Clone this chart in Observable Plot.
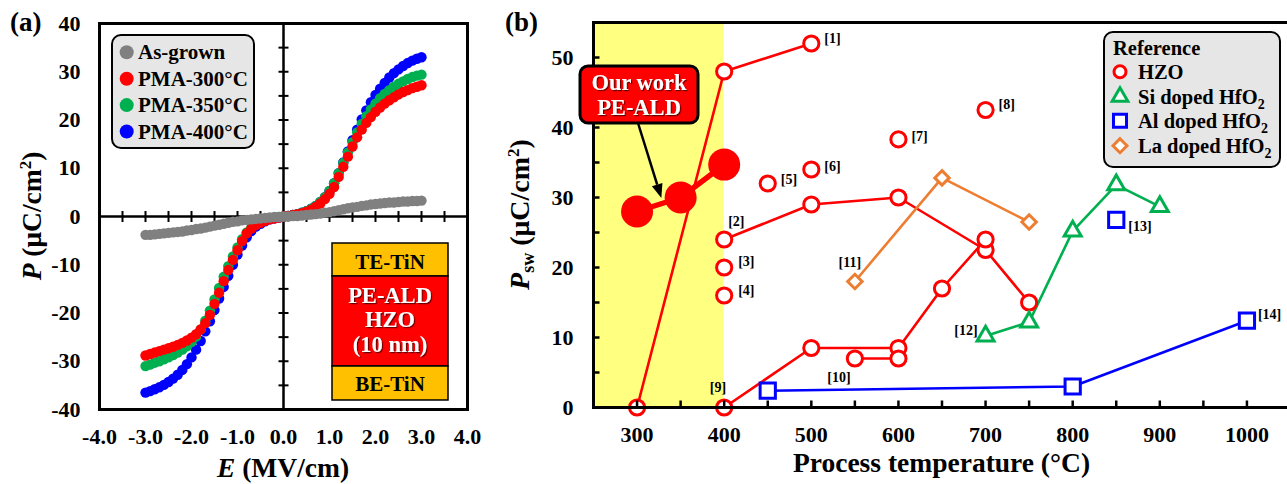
<!DOCTYPE html>
<html><head><meta charset="utf-8">
<script src="https://cdn.jsdelivr.net/npm/d3@7"></script>
<script src="https://cdn.jsdelivr.net/npm/@observablehq/plot@0.6"></script>
<style>
html,body{margin:0;padding:0;background:#fff;overflow:hidden;width:1287px;height:484px;}
#wrap{position:relative;width:1287px;height:484px;overflow:hidden;}
#a,#b{position:absolute;top:0;}
#a{left:0;width:470px;}
#b{left:480px;width:810px;}
</style></head><body><div id="wrap"><div id="a"></div><div id="b"></div></div>
<script>
// ---------------- DATA: panel (a) P–E curves ----------------
const fieldE = [-3.0,-2.9,-2.8,-2.7,-2.6,-2.5,-2.4,-2.3,-2.2,-2.1,-2.0,-1.9,-1.8,-1.7,-1.6,-1.5,-1.4,-1.3,-1.2,-1.1,-1.0,-0.9,-0.8,-0.7,-0.6,-0.5,-0.4,-0.3,-0.2,-0.1,0.0,
  0.1,0.2,0.3,0.4,0.5,0.6,0.7,0.8,0.9,1.0,1.1,1.2,1.3,1.4,1.5,1.6,1.7,1.8,1.9,2.0,2.1,2.2,2.3,2.4,2.5,2.6,2.7,2.8,2.9,3.0];
const pAsGrown = [-3.8,-3.8,-3.7,-3.6,-3.5,-3.4,-3.3,-3.2,-3.1,-2.9,-2.8,-2.6,-2.5,-2.3,-2.1,-1.9,-1.7,-1.5,-1.3,-1.1,-1.0,-0.8,-0.7,-0.6,-0.5,-0.4,-0.3,-0.2,-0.1,-0.1,0.0,
  0.0,0.1,0.1,0.2,0.3,0.4,0.5,0.6,0.8,0.9,1.1,1.3,1.5,1.7,1.9,2.0,2.2,2.3,2.5,2.6,2.7,2.8,2.9,2.9,3.0,3.1,3.1,3.2,3.2,3.3];
const pPMA300 = [-28.8,-28.5,-28.2,-27.9,-27.6,-27.3,-27.0,-26.6,-26.2,-25.7,-25.1,-24.4,-23.4,-22.1,-20.4,-18.1,-15.8,-13.4,-11.1,-9.0,-7.0,-5.1,-3.5,-2.5,-1.8,-1.3,-0.9,-0.6,-0.4,-0.2,0.0,
  0.1,0.3,0.5,0.7,1.0,1.4,2.0,2.7,3.6,4.7,6.1,8.2,10.3,12.4,14.5,16.4,18.0,19.4,20.6,21.7,22.6,23.4,24.1,24.7,25.3,25.8,26.2,26.6,26.9,27.2];
const pPMA350 = [-31.0,-30.7,-30.3,-30.0,-29.6,-29.2,-28.7,-28.2,-27.6,-26.9,-26.0,-24.9,-23.4,-21.6,-19.5,-17.2,-14.8,-12.5,-10.3,-8.3,-6.4,-4.7,-3.3,-2.3,-1.6,-1.1,-0.8,-0.5,-0.3,-0.1,0.0,
  0.1,0.3,0.5,0.8,1.1,1.6,2.2,3.0,4.0,5.3,6.9,9.0,11.1,13.3,15.4,17.4,19.2,20.8,22.2,23.4,24.5,25.4,26.2,26.9,27.5,28.0,28.5,28.9,29.2,29.4];
const pPMA400 = [-36.5,-36.2,-35.8,-35.4,-34.9,-34.3,-33.6,-32.8,-31.8,-30.6,-29.2,-27.6,-25.8,-23.8,-21.7,-19.4,-17.0,-14.6,-12.3,-10.0,-7.9,-6.0,-4.3,-3.0,-2.1,-1.5,-1.0,-0.6,-0.4,-0.2,0.0,
  0.1,0.3,0.5,0.8,1.1,1.6,2.2,3.0,4.0,5.3,6.9,9.0,11.2,13.5,15.8,18.0,20.1,22.0,23.7,25.2,26.5,27.7,28.8,29.7,30.5,31.2,31.8,32.3,32.7,33.0];
const seriesNames = ["As-grown","PMA-300°C","PMA-350°C","PMA-400°C"];
const seriesColors = ["#808080","#FF0000","#00B050","#0000FF"];
const eTickLabels = [-4,-3,-2,-1,0,1,2,3,4];
const eMinorTicks = [-3.5,-3,-2.5,-2,-1.5,-1,-0.5,0.5,1,1.5,2,2.5,3,3.5];
const pTickLabels = [-40,-30,-20,-10,0,10,20,30,40];
const pMinorTicks = [-35,-30,-25,-20,-15,-10,-5,5,10,15,20,25,30,35];

// ---------------- DATA: panel (b) Psw vs process temperature ----------------
const hzoData = [
  ["[1]",300,0],["[1]",400,48],["[1]",500,52],
  ["[2]",400,24],["[2]",500,29],["[2]",600,30],["[2]",700,22.5],["[2]",750,15],
  ["[3]",400,20],["[4]",400,16],["[5]",450,32],["[6]",500,34],["[7]",600,38.3],["[8]",700,42.5],
  ["[9]",400,0],["[9]",500,8.5],["[9]",600,8.5],["[9]",650,17],["[9]",700,24],
  ["[10]",550,7],["[10]",600,7]
];
const siData = [["[12]",700,10.2],["[12]",750,12.2],["[12]",800,25.2],["[12]",850,31.8],["[12]",900,28.7]];
const alData = [["[14]",450,2.4],["[14]",800,3.0],["[14]",1000,12.4],["[13]",850,26.8]];
const laData = [["[11]",550,18],["[11]",650,32.8],["[11]",750,26.5]];
const ourWork = [[300,28],[350,30],[400,34.7]];
const lowTempWindow = [{from:250,to:400}];
const refLabels = [
  {ref:"[1]",T:500,P:52},{ref:"[2]",T:400,P:24},{ref:"[3]",T:400,P:20},{ref:"[4]",T:400,P:16},
  {ref:"[5]",T:450,P:32},{ref:"[6]",T:500,P:34},{ref:"[7]",T:600,P:38.3},{ref:"[8]",T:700,P:42.5},
  {ref:"[9]",T:400,P:0},{ref:"[10]",T:550,P:7},{ref:"[11]",T:550,P:18},{ref:"[12]",T:700,P:10.2},
  {ref:"[13]",T:850,P:26.8},{ref:"[14]",T:1000,P:12.4}
];
const tTickLabels = [300,400,500,600,700,800,900,1000];
const tMinorTicks = [300,350,400,450,500,550,600,650,700,750,800,850,900,950,1000];
const pswTickLabels = [0,10,20,30,40,50];
const pswMinorTicks = [5,10,15,20,25,30,35,40,45,50];
const legendB = [
  {name:"HZO", sub:"", color:"#FF0000", symbol:"circle"},
  {name:"Si doped HfO", sub:"2", color:"#00B050", symbol:"triangle"},
  {name:"Al doped HfO", sub:"2", color:"#0000FF", symbol:"square"},
  {name:"La doped HfO", sub:"2", color:"#ED7D31", symbol:"diamond"}
];

// ---------------- styling / layout ----------------
const FONT = "'Liberation Serif','Times New Roman',serif";
const baseStyle = {fontFamily: FONT, fontWeight: "bold", fontSize: "22px", color: "black", background: "transparent", overflow: "visible"};
const tickCrossV = {draw(c){c.moveTo(0,-5.5);c.lineTo(0,5.5);}};
const tickCrossH = {draw(c){c.moveTo(-5,0);c.lineTo(5,0);}};
const tickUp = {draw(c){c.moveTo(0,0);c.lineTo(0,-7);}};
const tickRight = {draw(c){c.moveTo(0,0);c.lineTo(6,0);}};

// ---------------- Panel (a) ----------------
const tableA = seriesNames.map((n,i)=>fieldE.map((e,j)=>({E:e, P:[pAsGrown,pPMA300,pPMA350,pPMA400][i][j], s:i})));
const svgA = Plot.plot({
  width: 470, height: 484, marginLeft: 99, marginRight: 3, marginTop: 23, marginBottom: 75,
  x: {domain: [-4, 4]}, y: {domain: [-40, 40]},
  style: baseStyle,
  marks: [
    Plot.ruleY([0], {stroke: "black", strokeWidth: 2.5}),
    Plot.ruleX([0], {stroke: "black", strokeWidth: 2.5}),
    Plot.dot(eMinorTicks, {x: d=>d, y: ()=>0, symbol: tickCrossV, r: 1, fill: "none", stroke: "black", strokeWidth: 2}),
    Plot.dot(pMinorTicks, {x: ()=>0, y: d=>d, symbol: tickCrossH, r: 1, fill: "none", stroke: "black", strokeWidth: 2}),
    Plot.dot(tableA[3], {x: "E", y: "P", r: 5.2, fill: seriesColors[3]}),
    Plot.dot(tableA[2], {x: "E", y: "P", r: 5.2, fill: seriesColors[2]}),
    Plot.dot(tableA[1], {x: "E", y: "P", r: 5.2, fill: seriesColors[1]}),
    Plot.dot(tableA[0], {x: "E", y: "P", r: 5.2, fill: seriesColors[0]}),
    Plot.axisX(eTickLabels, {tickSize: 0, tickPadding: 19, tickFormat: d=>d.toFixed(1), label: null, fontSize: 22}),
    Plot.axisY(pTickLabels, {tickSize: 0, tickPadding: 19, tickFormat: d=>String(d), label: null, fontSize: 22}),
    Plot.frame({stroke: "black", strokeWidth: 3})
  ]
});
document.getElementById("a").appendChild(svgA);

// ---------------- Panel (b) ----------------
const lbOff = {"[1]":[13,-5,"start"],"[2]":[4,-18,"start"],"[3]":[14,-6,"start"],"[4]":[14,-5,"start"],
  "[5]":[13,-4,"start"],"[6]":[13,-3,"start"],"[7]":[13,-3,"start"],"[8]":[13,-5,"start"],
  "[9]":[2,-20,"end"],"[10]":[-16,19,"middle"],"[11]":[-5,-19,"middle"],"[12]":[-8,-6,"end"],
  "[13]":[12,7,"start"],"[14]":[11,-6,"start"]};
const lineOpts = (c)=>({x: d=>d[1], y: d=>d[2], z: d=>d[0], stroke: c, strokeWidth: 2.6});
const dotOpts = (c, sym, r)=>({x: d=>d[1], y: d=>d[2], symbol: sym, r, fill: "white", stroke: c, strokeWidth: 3});
const svgB = Plot.plot({
  width: 810, height: 484, marginLeft: 113, marginRight: 0, marginTop: 22, marginBottom: 77,
  x: {domain: [250, 1050]}, y: {domain: [0, 55]},
  style: baseStyle,
  marks: [
    Plot.rect(lowTempWindow, {x1: "from", x2: "to", fill: "#FFFF80"}),
    Plot.line(hzoData, lineOpts("#FF0000")),
    Plot.line(laData, lineOpts("#ED7D31")),
    Plot.line(siData, lineOpts("#00B050")),
    Plot.line(alData, lineOpts("#0000FF")),
    Plot.line(ourWork, {x: d=>d[0], y: d=>d[1], stroke: "#FF0000", strokeWidth: 5.5}),
    Plot.dot(ourWork, {x: d=>d[0], y: d=>d[1], r: 16, fill: "#FF0000"}),
    Plot.dot(hzoData, dotOpts("#FF0000", "circle", 7.6)),
    Plot.dot(laData, dotOpts("#ED7D31", "diamond2", 6.5)),
    Plot.dot(siData, dotOpts("#00B050", "triangle2", 8.1)),
    Plot.dot(alData, dotOpts("#0000FF", "square2", 9.7)),
    ...refLabels.map(l => Plot.text([l], {x: "T", y: "P", text: "ref", dx: lbOff[l.ref][0], dy: lbOff[l.ref][1], textAnchor: lbOff[l.ref][2], fontSize: 14, fontWeight: "bold"})),
    Plot.dot(tMinorTicks, {x: d=>d, y: ()=>0, symbol: tickUp, r: 1, fill: "none", stroke: "black", strokeWidth: 2.5}),
    Plot.dot(pswMinorTicks, {x: ()=>250, y: d=>d, symbol: tickRight, r: 1, fill: "none", stroke: "black", strokeWidth: 2.5}),
    Plot.axisX(tTickLabels, {tickSize: 0, tickPadding: 19, tickFormat: d=>String(d), label: null, fontSize: 22}),
    Plot.axisY(pswTickLabels, {tickSize: 0, tickPadding: 20, tickFormat: d=>String(d), label: null, fontSize: 22}),
    Plot.frame({stroke: "black", strokeWidth: 3})
  ]
});
document.getElementById("b").appendChild(svgB);

// ---------------- Annotations (text, legends, boxes) ----------------
function shadowFilter(sel, id){
  sel.append("defs").append("filter").attr("id", id).attr("x","-10%").attr("y","-10%").attr("width","130%").attr("height","140%")
    .append("feDropShadow").attr("dx",1.2).attr("dy",1.2).attr("stdDeviation",0.7).attr("flood-color","#300").attr("flood-opacity",0.75);
}
function txt(g, x, y, s, size, opts={}){
  const t = g.append("text").attr("x",x).attr("y",y).attr("font-size",size).attr("font-family",FONT).attr("font-weight","bold")
    .attr("text-anchor",opts.anchor||"start").attr("fill",opts.fill||"black").text(s);
  if (opts.filter) t.attr("filter",`url(#${opts.filter})`);
  return t;
}

// Panel (a)
{
  const sa = d3.select(svgA);
  shadowFilter(sa, "shA");
  const xs = svgA.scale("x"), ys = svgA.scale("y");
  const cx = (xs.range[0]+xs.range[1])/2, cy = (ys.range[0]+ys.range[1])/2;
  txt(sa, 10, 31, "(a)", 27);
  const tx = sa.append("text").attr("x",cx).attr("y",477).attr("text-anchor","middle").attr("font-size",27.5).attr("font-family",FONT).attr("font-weight","bold");
  tx.append("tspan").attr("font-style","italic").text("E");
  tx.append("tspan").text(" (MV/cm)");
  const ty = sa.append("text").attr("transform",`translate(41,${cy}) rotate(-90)`).attr("text-anchor","middle").attr("font-size",27.5).attr("font-family",FONT).attr("font-weight","bold");
  ty.append("tspan").attr("font-style","italic").text("P");
  ty.append("tspan").text(" (μC/cm");
  ty.append("tspan").attr("font-size",17).attr("dy",-10).text("2");
  ty.append("tspan").attr("dy",10).text(")");
  const lg = sa.append("g");
  lg.append("rect").attr("x",112).attr("y",35).attr("width",142).attr("height",113).attr("rx",9)
    .attr("fill","#E7E6E6").attr("stroke","black").attr("stroke-width",2);
  seriesNames.forEach((n,i)=>{
    const y = 52.3 + i*26.4;
    lg.append("circle").attr("cx",126.7).attr("cy",y).attr("r",7).attr("fill",seriesColors[i]);
    txt(lg, 138, y+7, n, 21);
  });
  const dv = sa.append("g").attr("stroke","black").attr("stroke-width",1.5);
  dv.append("rect").attr("x",332).attr("y",243).attr("width",116).attr("height",33).attr("fill","#FFC000");
  dv.append("rect").attr("x",332).attr("y",276).attr("width",116).attr("height",90).attr("fill","#FF0000");
  dv.append("rect").attr("x",332).attr("y",366).attr("width",116).attr("height",34).attr("fill","#FFC000");
  const dt = sa.append("g");
  txt(dt, 390, 268.5, "TE-TiN", 21, {anchor:"middle"});
  txt(dt, 390, 303, "PE-ALD", 22.5, {anchor:"middle", fill:"white", filter:"shA"});
  txt(dt, 390, 327, "HZO", 22.5, {anchor:"middle", fill:"white", filter:"shA"});
  txt(dt, 390, 352, "(10 nm)", 22.5, {anchor:"middle", fill:"white", filter:"shA"});
  txt(dt, 390, 391, "BE-TiN", 21, {anchor:"middle"});
}

// Panel (b)
{
  const sb = d3.select(svgB);
  shadowFilter(sb, "shB");
  const xs = svgB.scale("x"), ys = svgB.scale("y");
  const cx = (xs.range[0]+xs.range[1])/2, cy = (ys.range[0]+ys.range[1])/2;
  txt(sb, 25, 31, "(b)", 27);
  txt(sb, cx, 472, "Process temperature (°C)", 27.5, {anchor:"middle"});
  const ty = sb.append("text").attr("transform",`translate(49,${cy}) rotate(-90)`).attr("text-anchor","middle").attr("font-size",28).attr("font-family",FONT).attr("font-weight","bold");
  ty.append("tspan").attr("font-style","italic").text("P");
  ty.append("tspan").attr("font-size",18).attr("dy",5).text("sw");
  ty.append("tspan").attr("dy",-5).text(" (μC/cm");
  ty.append("tspan").attr("font-size",17).attr("dy",-10).text("2");
  ty.append("tspan").attr("dy",10).text(")");
  const lg = sb.append("g");
  lg.append("rect").attr("x",624).attr("y",32).attr("width",176).attr("height",135).attr("rx",9)
    .attr("fill","#E7E6E6").attr("stroke","black").attr("stroke-width",2);
  txt(lg, 633, 55, "Reference", 20.5);
  const symMap = {circle:[d3.symbolCircle,6], triangle:[d3.symbolTriangle2,7.5], square:[d3.symbolSquare2,8.3], diamond:[d3.symbolDiamond2,6.3]};
  legendB.forEach((d,i)=>{
    const y = [71.7,96.7,120.7,145.7][i];
    const [st, r] = symMap[d.symbol];
    lg.append("path").attr("transform",`translate(640,${y})`).attr("d", d3.symbol(st, Math.PI*r*r)())
      .attr("fill","white").attr("stroke",d.color).attr("stroke-width",3);
    const t = txt(lg, 658, y+7, d.name, 20.5);
    if (d.sub) t.append("tspan").attr("font-size",14).attr("dy",5).text(d.sub);
  });
  const mx = (xs.apply(ourWork[0][0]) + xs.apply(ourWork[1][0]))/2;
  const my = (ys.apply(ourWork[0][1]) + ys.apply(ourWork[1][1]))/2;
  const tip = [mx+3, my-6], start = [158, 123];
  const dxv = tip[0]-start[0], dyv = tip[1]-start[1], len = Math.hypot(dxv,dyv);
  const ux = dxv/len, uy = dyv/len, hl = 14, hw = 5.5;
  const base = [tip[0]-ux*hl, tip[1]-uy*hl];
  sb.append("line").attr("x1",start[0]).attr("y1",start[1]).attr("x2",base[0]).attr("y2",base[1]).attr("stroke","black").attr("stroke-width",2.5);
  sb.append("path").attr("d",`M${tip[0]},${tip[1]}L${base[0]-uy*hw},${base[1]+ux*hw}L${base[0]+uy*hw},${base[1]-ux*hw}Z`).attr("fill","black");
  sb.append("rect").attr("x",100).attr("y",66).attr("width",118).attr("height",57).attr("rx",8)
    .attr("fill","#FF0000").attr("stroke","black").attr("stroke-width",3);
  txt(sb, 159, 90, "Our work", 22.5, {anchor:"middle", fill:"white", filter:"shB"});
  txt(sb, 159, 115, "PE-ALD", 22.5, {anchor:"middle", fill:"white", filter:"shB"});
}
</script></body></html>
